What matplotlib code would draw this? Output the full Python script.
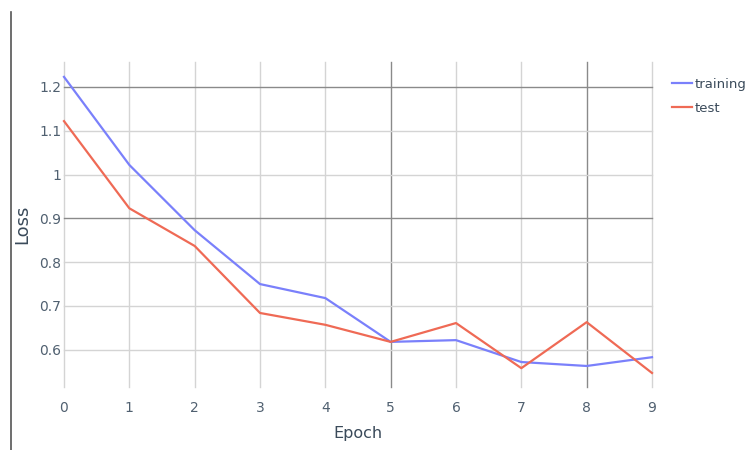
import numpy as np
import matplotlib
matplotlib.use("Agg")
import matplotlib.pyplot as plt
from matplotlib.lines import Line2D

epochs = [0, 1, 2, 3, 4, 5, 6, 7, 8, 9]
training = [1.223, 1.022, 0.873, 0.750, 0.718, 0.618, 0.622, 0.572, 0.563, 0.583]
test = [1.122, 0.923, 0.837, 0.684, 0.657, 0.618, 0.661, 0.558, 0.663, 0.547]
y_ticks = [0.6, 0.7, 0.8, 0.9, 1.0, 1.1, 1.2]
y_tick_labels = ["0.6", "0.7", "0.8", "0.9", "1", "1.1", "1.2"]

W, H = 747, 450
fig = plt.figure(figsize=(W / 100, H / 100), dpi=100)
fig.patch.set_facecolor("white")

# plot area in pixels
left, right, top, bottom = 64, 652, 62, 387
ax = fig.add_axes([left / W, 1 - bottom / H, (right - left) / W, (bottom - top) / H])
ax.set_xlim(0, 9)
ax.set_ylim(0.515, 1.257)

# grid, drawn by hand so a few lines can be darker like the screenshot
for e in epochs:
    c = "#8a8a8a" if e in (5, 8) else "#d4d4d4"
    ax.axvline(e, color=c, lw=1.0, zorder=1, clip_on=False)
for v in y_ticks:
    c = "#8a8a8a" if v in (0.9, 1.2) else "#d4d4d4"
    ax.axhline(v, color=c, lw=1.0, zorder=1, clip_on=False)

ax.plot(epochs, training, color="#7a80fb", lw=1.6, zorder=3, label="training", clip_on=False)
ax.plot(epochs, test, color="#ef6a55", lw=1.6, zorder=3, label="test", clip_on=False)

for s in ax.spines.values():
    s.set_visible(False)
ax.set_xticks(epochs)
ax.set_yticks(y_ticks)
ax.set_yticklabels(y_tick_labels)
ax.tick_params(length=0, labelsize=10, colors="#506070")
ax.tick_params(axis="x", pad=10)
ax.tick_params(axis="y", pad=2)
ax.set_xlabel("Epoch", fontsize=11.5, color="#3a4a5a", labelpad=8)
ax.set_ylabel("Loss", fontsize=13, color="#3a4a5a", labelpad=6)

handles = [Line2D([], [], color="#7a80fb", lw=1.6), Line2D([], [], color="#ef6a55", lw=1.6)]
fig.legend(handles, ["training", "test"], loc="upper left",
           bbox_to_anchor=(660 / W, 1 - 66 / H), frameon=False,
           fontsize=9.5, labelcolor="#3a4a5a", handlelength=1.5,
           handletextpad=0.2, labelspacing=0.85)

# left border line of the screenshot
fig.add_artist(Line2D([11 / W, 11 / W], [0, 1 - 12 / H], color="#555555", lw=1.2))

fig.savefig("out.png", dpi=100)
